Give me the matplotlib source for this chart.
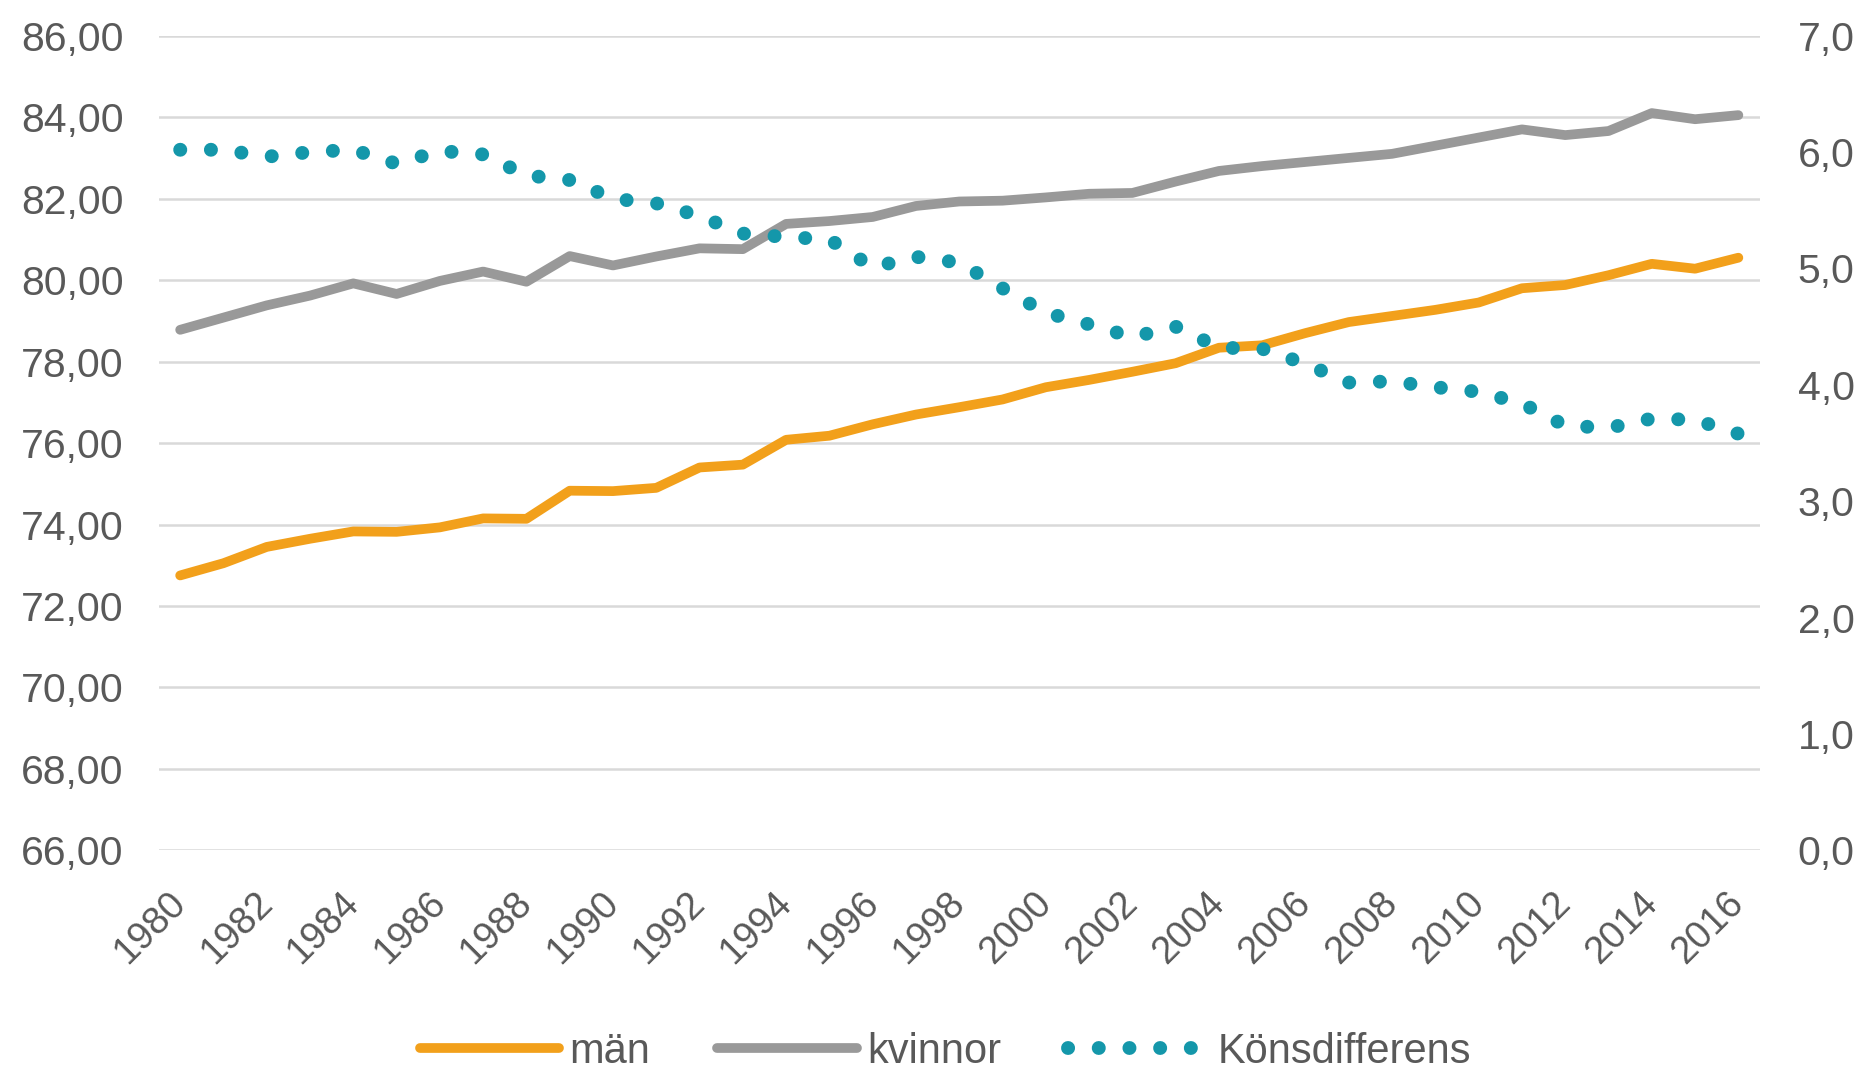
import numpy as np
import matplotlib.pyplot as plt
from matplotlib.ticker import FuncFormatter

plt.rcParams['font.family'] = ['Liberation Sans', 'DejaVu Sans']

# data
years = list(range(1980, 2017))
man = [72.75, 73.05, 73.45, 73.65, 73.83, 73.82, 73.93, 74.15, 74.14, 74.83,
       74.82, 74.90, 75.40, 75.47, 76.08, 76.18, 76.46, 76.70, 76.88, 77.07,
       77.37, 77.55, 77.75, 77.96, 78.34, 78.40, 78.70, 78.97, 79.12, 79.27,
       79.45, 79.80, 79.88, 80.12, 80.40, 80.28, 80.55]
kvinnor = [78.78, 79.08, 79.38, 79.62, 79.92, 79.66, 79.98, 80.21, 79.96, 80.59,
           80.36, 80.58, 80.78, 80.76, 81.38, 81.45, 81.55, 81.82, 81.93, 81.95,
           82.03, 82.12, 82.14, 82.42, 82.68, 82.80, 82.90, 83.00, 83.10, 83.30,
           83.50, 83.70, 83.56, 83.66, 84.10, 83.95, 84.05]
diff = [6.02, 6.02, 5.96, 6.00, 6.02, 5.90, 6.01, 5.98, 5.80, 5.76,
        5.60, 5.56, 5.45, 5.30, 5.27, 5.25, 5.01, 5.10, 5.05, 4.83,
        4.62, 4.52, 4.41, 4.50, 4.32, 4.31, 4.18, 4.02, 4.03, 3.98,
        3.94, 3.84, 3.65, 3.63, 3.71, 3.70, 3.58]
labels = ['män', 'kvinnor', 'Könsdifferens']

orange = '#F2A01B'
grey = '#999999'
teal = '#1497AA'
txt = '#595959'

fig = plt.figure(figsize=(18.65, 10.69), dpi=100)
fig.subplots_adjust(left=0.085, right=0.9437, bottom=0.2045, top=0.9666)
ax = fig.add_subplot(111)
ax2 = ax.twinx()

l1, = ax.plot(years, man, color=orange, lw=7, solid_capstyle='round',
              solid_joinstyle='round', label=labels[0])
l2, = ax.plot(years, kvinnor, color=grey, lw=7, solid_capstyle='round',
              solid_joinstyle='round', label=labels[1])
# round-dot line like Excel's dotted style
l3, = ax2.plot(years, diff, color=teal, lw=10, linestyle=(0, (0.01, 2.2)),
               dash_capstyle='round', label=labels[2])

ax.set_xlim(1979.5, 2016.5)
ax.set_ylim(66, 86)
ax2.set_ylim(0, 7)
ax.set_yticks(np.arange(66, 87, 2))
ax2.set_yticks(np.arange(0, 8, 1))
ax.yaxis.set_major_formatter(FuncFormatter(lambda v, p: f'{v:.2f}'.replace('.', ',')))
ax2.yaxis.set_major_formatter(FuncFormatter(lambda v, p: f'{v:.1f}'.replace('.', ',')))

ax.set_xticks(years[::2])
ax.set_xticklabels([str(y) for y in years[::2]], rotation=45, ha='right',
                   va='center', rotation_mode='anchor')

ax.grid(axis='y', color='#D9D9D9', lw=1.8)
ax.set_axisbelow(True)
for a in (ax, ax2):
    for s in a.spines.values():
        s.set_visible(False)
ax.tick_params(axis='y', length=0, pad=25, labelsize=29.5, labelcolor=txt)
ax.tick_params(axis='x', length=0, pad=34, labelsize=27.5, labelcolor=txt)
ax2.tick_params(axis='y', length=0, pad=27, labelsize=29.5, labelcolor=txt)

leg = fig.legend(handles=[l1, l2, l3], loc='center', ncol=3,
                 bbox_to_anchor=(0.507, 0.016), frameon=False,
                 fontsize=30, handlelength=3.35, handletextpad=0.25,
                 columnspacing=1.6, labelcolor=txt)

fig.savefig('out.png', dpi=100)
